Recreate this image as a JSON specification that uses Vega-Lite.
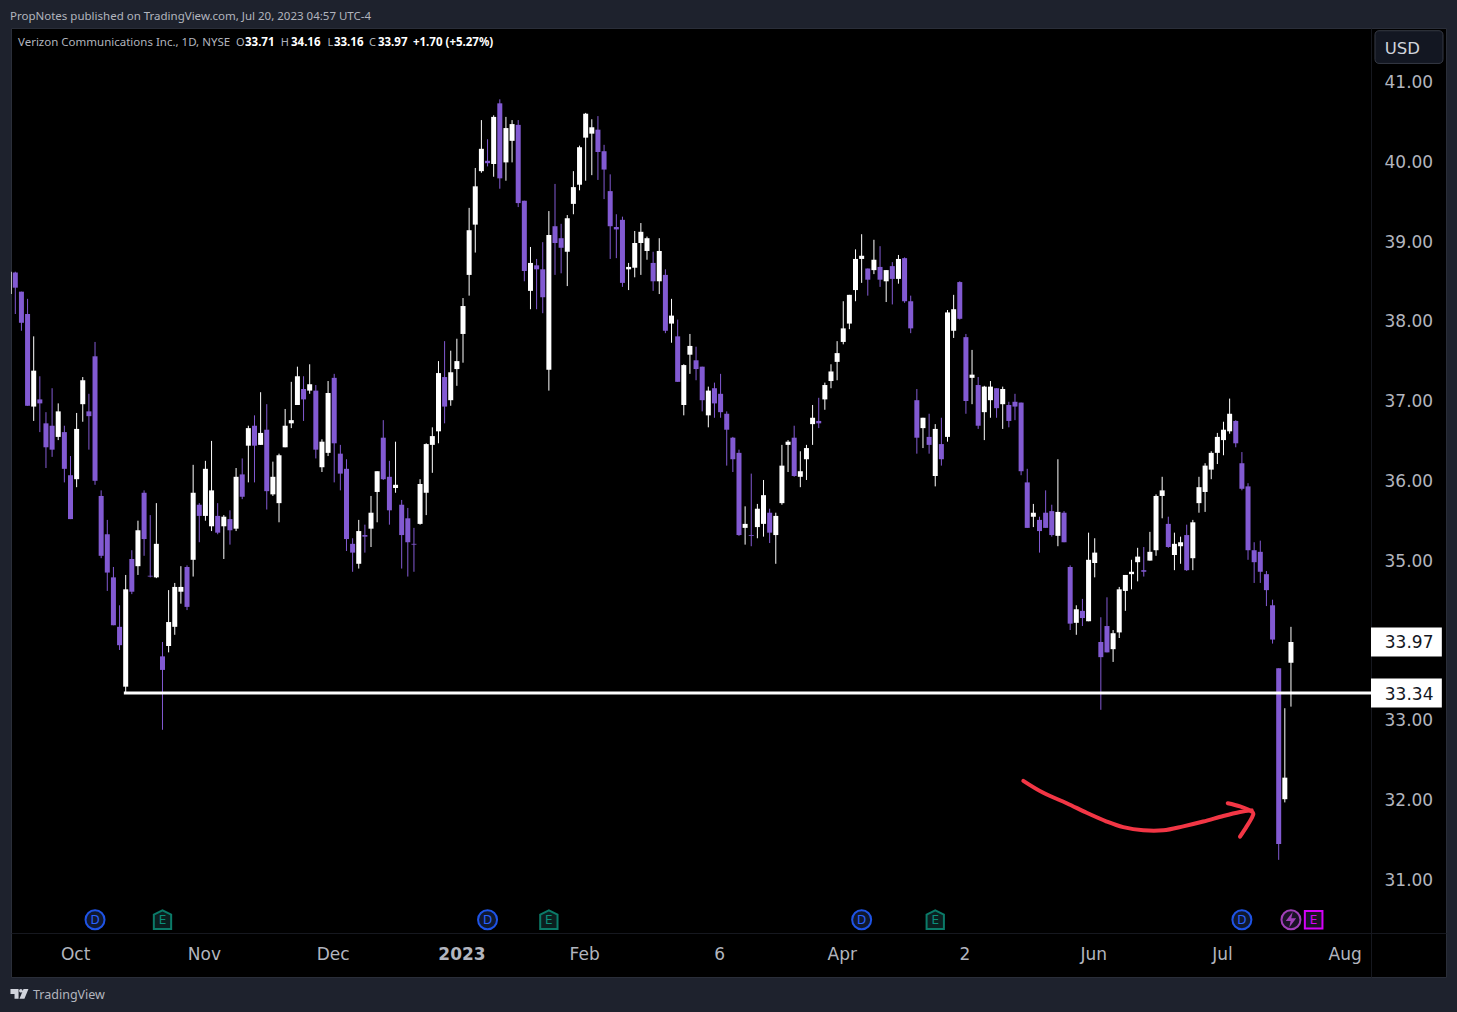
{
"$schema":"https://vega.github.io/schema/vega-lite/v6.json",
"title":{"text":"PropNotes published on TradingView.com, Jul 20, 2023 04:57 UTC-4","anchor":"start","frame":"group","offset":6,"dx":-1,"fontSize":11.5,"font":"Noto Sans","fontWeight":"normal","color":"#b2b5be"},
"autosize":"none",
"width":1435,
"height":949,
"padding":{"left":11,"top":28,"right":11,"bottom":35},
"background":"#1e222d",
"view":{"fill":"#000000","stroke":"#2a2e39"},
"config":{"text":{"font":"DejaVu Sans"}},
"datasets":{
"candles":[
{"bar":-1,"o":38.33,"h":38.61,"l":38.33,"c":38.61},
{"bar":0,"o":38.60,"h":38.61,"l":38.08,"c":38.41},
{"bar":1,"o":38.36,"h":38.36,"l":37.87,"c":37.97},
{"bar":2,"o":38.08,"h":38.27,"l":36.93,"c":36.93},
{"bar":3,"o":36.92,"h":37.80,"l":36.74,"c":37.37},
{"bar":4,"o":37.01,"h":37.30,"l":36.60,"c":36.96},
{"bar":5,"o":36.71,"h":36.85,"l":36.15,"c":36.41},
{"bar":6,"o":36.68,"h":37.15,"l":36.29,"c":36.38},
{"bar":7,"o":36.54,"h":36.96,"l":36.50,"c":36.86},
{"bar":8,"o":36.60,"h":36.68,"l":35.97,"c":36.14},
{"bar":9,"o":36.06,"h":36.30,"l":35.51,"c":35.51},
{"bar":10,"o":36.01,"h":36.84,"l":35.91,"c":36.64},
{"bar":11,"o":36.95,"h":37.29,"l":36.73,"c":37.25},
{"bar":12,"o":36.86,"h":37.08,"l":36.38,"c":36.80},
{"bar":13,"o":37.55,"h":37.73,"l":35.94,"c":35.99},
{"bar":14,"o":35.80,"h":35.87,"l":35.02,"c":35.05},
{"bar":15,"o":35.32,"h":35.50,"l":34.61,"c":34.84},
{"bar":16,"o":34.78,"h":34.91,"l":34.18,"c":34.18},
{"bar":17,"o":34.16,"h":34.43,"l":33.87,"c":33.93},
{"bar":18,"o":33.41,"h":34.81,"l":33.34,"c":34.63},
{"bar":19,"o":35.01,"h":35.12,"l":34.57,"c":34.60},
{"bar":20,"o":34.92,"h":35.49,"l":34.81,"c":35.37},
{"bar":21,"o":35.84,"h":35.87,"l":35.05,"c":35.26},
{"bar":22,"o":34.80,"h":35.56,"l":34.78,"c":34.79},
{"bar":23,"o":34.78,"h":35.71,"l":34.77,"c":35.20},
{"bar":24,"o":33.79,"h":33.97,"l":32.87,"c":33.62},
{"bar":25,"o":33.92,"h":34.62,"l":33.84,"c":34.22},
{"bar":26,"o":34.16,"h":34.71,"l":34.06,"c":34.66},
{"bar":27,"o":34.60,"h":34.92,"l":34.45,"c":34.66},
{"bar":28,"o":34.91,"h":34.93,"l":34.37,"c":34.41},
{"bar":29,"o":35.00,"h":36.19,"l":34.79,"c":35.84},
{"bar":30,"o":35.69,"h":35.71,"l":35.22,"c":35.55},
{"bar":31,"o":35.55,"h":36.24,"l":35.49,"c":36.14},
{"bar":32,"o":35.42,"h":36.49,"l":35.36,"c":35.87},
{"bar":33,"o":35.55,"h":35.71,"l":35.32,"c":35.34},
{"bar":34,"o":35.42,"h":35.56,"l":35.01,"c":35.54},
{"bar":35,"o":35.51,"h":35.62,"l":35.19,"c":35.37},
{"bar":36,"o":35.39,"h":36.15,"l":35.36,"c":36.04},
{"bar":37,"o":36.07,"h":36.27,"l":35.76,"c":35.79},
{"bar":38,"o":36.43,"h":36.68,"l":35.97,"c":36.65},
{"bar":39,"o":36.68,"h":36.81,"l":35.97,"c":36.43},
{"bar":40,"o":36.44,"h":37.10,"l":36.44,"c":36.59},
{"bar":41,"o":36.63,"h":36.95,"l":35.63,"c":35.86},
{"bar":42,"o":35.82,"h":36.23,"l":35.80,"c":36.04},
{"bar":43,"o":35.71,"h":36.33,"l":35.47,"c":36.31},
{"bar":44,"o":36.41,"h":36.89,"l":36.41,"c":36.68},
{"bar":45,"o":36.71,"h":37.23,"l":36.65,"c":36.75},
{"bar":46,"o":36.94,"h":37.42,"l":36.94,"c":37.30},
{"bar":47,"o":37.14,"h":37.30,"l":36.74,"c":37.01},
{"bar":48,"o":37.12,"h":37.45,"l":37.08,"c":37.20},
{"bar":49,"o":37.12,"h":37.19,"l":36.27,"c":36.38},
{"bar":50,"o":36.16,"h":36.51,"l":36.10,"c":36.48},
{"bar":51,"o":36.34,"h":37.24,"l":36.30,"c":37.09},
{"bar":52,"o":37.28,"h":37.33,"l":35.97,"c":36.46},
{"bar":53,"o":36.33,"h":36.44,"l":35.87,"c":36.08},
{"bar":54,"o":36.14,"h":36.26,"l":35.11,"c":35.26},
{"bar":55,"o":35.20,"h":35.27,"l":34.85,"c":35.09},
{"bar":56,"o":34.95,"h":35.50,"l":34.89,"c":35.36},
{"bar":57,"o":35.31,"h":35.44,"l":35.09,"c":35.29},
{"bar":58,"o":35.39,"h":35.80,"l":35.16,"c":35.59},
{"bar":59,"o":35.85,"h":36.11,"l":35.47,"c":36.11},
{"bar":60,"o":36.53,"h":36.75,"l":36.00,"c":36.01},
{"bar":61,"o":36.04,"h":36.24,"l":35.44,"c":35.62},
{"bar":62,"o":35.90,"h":36.48,"l":35.84,"c":35.94},
{"bar":63,"o":35.69,"h":35.75,"l":34.89,"c":35.31},
{"bar":64,"o":35.52,"h":35.65,"l":34.79,"c":35.22},
{"bar":65,"o":35.20,"h":35.40,"l":34.85,"c":35.19},
{"bar":66,"o":35.45,"h":36.01,"l":35.44,"c":35.95},
{"bar":67,"o":35.84,"h":36.46,"l":35.56,"c":36.45},
{"bar":68,"o":36.44,"h":36.66,"l":36.09,"c":36.55},
{"bar":69,"o":36.61,"h":37.49,"l":36.46,"c":37.34},
{"bar":70,"o":37.29,"h":37.74,"l":36.71,"c":36.92},
{"bar":71,"o":37.00,"h":37.62,"l":36.93,"c":37.35},
{"bar":72,"o":37.39,"h":37.77,"l":37.18,"c":37.49},
{"bar":73,"o":37.83,"h":38.28,"l":37.47,"c":38.18},
{"bar":74,"o":38.57,"h":39.41,"l":38.31,"c":39.13},
{"bar":75,"o":39.20,"h":39.91,"l":38.85,"c":39.68},
{"bar":76,"o":39.87,"h":40.51,"l":39.85,"c":40.15},
{"bar":77,"o":40.00,"h":40.27,"l":39.93,"c":39.97},
{"bar":78,"o":39.96,"h":40.57,"l":39.80,"c":40.55},
{"bar":79,"o":40.72,"h":40.77,"l":39.65,"c":39.78},
{"bar":80,"o":39.98,"h":40.55,"l":39.75,"c":40.41},
{"bar":81,"o":40.25,"h":40.51,"l":39.98,"c":40.46},
{"bar":82,"o":40.45,"h":40.51,"l":39.42,"c":39.47},
{"bar":83,"o":39.50,"h":39.50,"l":38.49,"c":38.62},
{"bar":84,"o":38.37,"h":38.92,"l":38.14,"c":38.72},
{"bar":85,"o":38.69,"h":38.77,"l":38.14,"c":38.64},
{"bar":86,"o":38.64,"h":38.98,"l":38.09,"c":38.29},
{"bar":87,"o":37.38,"h":39.37,"l":37.12,"c":39.07},
{"bar":88,"o":39.18,"h":39.71,"l":38.57,"c":38.97},
{"bar":89,"o":39.03,"h":39.21,"l":38.59,"c":38.91},
{"bar":90,"o":38.86,"h":39.32,"l":38.43,"c":39.28},
{"bar":91,"o":39.46,"h":39.87,"l":39.33,"c":39.67},
{"bar":92,"o":39.70,"h":40.19,"l":39.63,"c":40.17},
{"bar":93,"o":40.29,"h":40.60,"l":39.75,"c":40.59},
{"bar":94,"o":40.34,"h":40.52,"l":39.82,"c":40.42},
{"bar":95,"o":40.39,"h":40.56,"l":39.76,"c":40.11},
{"bar":96,"o":40.12,"h":40.20,"l":39.52,"c":39.89},
{"bar":97,"o":39.62,"h":39.83,"l":38.77,"c":39.18},
{"bar":98,"o":39.17,"h":39.33,"l":38.78,"c":39.14},
{"bar":99,"o":39.26,"h":39.30,"l":38.42,"c":38.47},
{"bar":100,"o":38.64,"h":38.72,"l":38.38,"c":38.67},
{"bar":101,"o":38.66,"h":39.12,"l":38.54,"c":38.97},
{"bar":102,"o":38.97,"h":39.22,"l":38.57,"c":39.11},
{"bar":103,"o":38.87,"h":39.05,"l":38.76,"c":39.03},
{"bar":104,"o":38.72,"h":38.86,"l":38.37,"c":38.49},
{"bar":105,"o":38.49,"h":39.03,"l":38.33,"c":38.87},
{"bar":106,"o":38.57,"h":38.64,"l":37.84,"c":37.87},
{"bar":107,"o":37.96,"h":38.27,"l":37.72,"c":38.06},
{"bar":108,"o":37.80,"h":38.01,"l":37.23,"c":37.23},
{"bar":109,"o":36.94,"h":37.45,"l":36.81,"c":37.44},
{"bar":110,"o":37.57,"h":37.83,"l":37.33,"c":37.68},
{"bar":111,"o":37.50,"h":37.67,"l":37.25,"c":37.39},
{"bar":112,"o":37.42,"h":37.42,"l":36.86,"c":37.00},
{"bar":113,"o":36.81,"h":37.17,"l":36.66,"c":37.12},
{"bar":114,"o":37.15,"h":37.22,"l":36.78,"c":36.96},
{"bar":115,"o":37.08,"h":37.33,"l":36.78,"c":36.85},
{"bar":116,"o":36.83,"h":36.86,"l":36.18,"c":36.63},
{"bar":117,"o":36.53,"h":36.54,"l":36.10,"c":36.26},
{"bar":118,"o":36.34,"h":36.38,"l":35.30,"c":35.31},
{"bar":119,"o":35.40,"h":35.67,"l":35.19,"c":35.45},
{"bar":120,"o":35.31,"h":36.08,"l":35.17,"c":35.30},
{"bar":121,"o":35.41,"h":35.70,"l":35.27,"c":35.64},
{"bar":122,"o":35.45,"h":36.00,"l":35.29,"c":35.81},
{"bar":123,"o":35.59,"h":35.64,"l":35.21,"c":35.34},
{"bar":124,"o":35.31,"h":35.59,"l":34.95,"c":35.55},
{"bar":125,"o":35.71,"h":36.44,"l":35.69,"c":36.18},
{"bar":126,"o":36.44,"h":36.50,"l":36.10,"c":36.48},
{"bar":127,"o":36.53,"h":36.68,"l":36.04,"c":36.05},
{"bar":128,"o":36.04,"h":36.36,"l":35.91,"c":36.11},
{"bar":129,"o":36.26,"h":36.44,"l":36.00,"c":36.40},
{"bar":130,"o":36.70,"h":36.94,"l":36.44,"c":36.78},
{"bar":131,"o":36.74,"h":37.03,"l":36.65,"c":36.71},
{"bar":132,"o":37.01,"h":37.22,"l":36.88,"c":37.19},
{"bar":133,"o":37.24,"h":37.45,"l":37.15,"c":37.36},
{"bar":134,"o":37.48,"h":37.74,"l":37.25,"c":37.59},
{"bar":135,"o":37.73,"h":38.24,"l":37.70,"c":37.90},
{"bar":136,"o":37.96,"h":38.32,"l":37.89,"c":38.32},
{"bar":137,"o":38.38,"h":38.89,"l":38.24,"c":38.77},
{"bar":138,"o":38.77,"h":39.08,"l":38.47,"c":38.81},
{"bar":139,"o":38.65,"h":38.65,"l":38.31,"c":38.51},
{"bar":140,"o":38.63,"h":39.01,"l":38.58,"c":38.76},
{"bar":141,"o":38.67,"h":38.93,"l":38.42,"c":38.51},
{"bar":142,"o":38.49,"h":38.63,"l":38.23,"c":38.63},
{"bar":143,"o":38.68,"h":38.73,"l":38.20,"c":38.52},
{"bar":144,"o":38.52,"h":38.82,"l":38.46,"c":38.77},
{"bar":145,"o":38.78,"h":38.79,"l":38.22,"c":38.24},
{"bar":146,"o":38.24,"h":38.31,"l":37.84,"c":37.90},
{"bar":147,"o":37.00,"h":37.14,"l":36.33,"c":36.53},
{"bar":148,"o":36.65,"h":36.78,"l":36.40,"c":36.78},
{"bar":149,"o":36.54,"h":36.83,"l":36.33,"c":36.44},
{"bar":150,"o":36.05,"h":36.70,"l":35.92,"c":36.64},
{"bar":151,"o":36.45,"h":36.78,"l":36.18,"c":36.26},
{"bar":152,"o":36.54,"h":38.13,"l":36.48,"c":38.10},
{"bar":153,"o":37.87,"h":38.32,"l":37.78,"c":38.14},
{"bar":154,"o":38.48,"h":38.49,"l":38.01,"c":38.02},
{"bar":155,"o":37.79,"h":37.83,"l":36.83,"c":36.99},
{"bar":156,"o":37.28,"h":37.63,"l":36.95,"c":37.32},
{"bar":157,"o":37.19,"h":37.29,"l":36.64,"c":36.68},
{"bar":158,"o":36.85,"h":37.18,"l":36.50,"c":37.17},
{"bar":159,"o":37.00,"h":37.24,"l":36.78,"c":37.17},
{"bar":160,"o":37.15,"h":37.15,"l":36.78,"c":36.90},
{"bar":161,"o":36.95,"h":37.17,"l":36.64,"c":37.14},
{"bar":162,"o":36.94,"h":36.98,"l":36.66,"c":36.74},
{"bar":163,"o":36.98,"h":37.08,"l":36.75,"c":36.92},
{"bar":164,"o":36.97,"h":36.97,"l":36.06,"c":36.11},
{"bar":165,"o":35.97,"h":36.14,"l":35.40,"c":35.40},
{"bar":166,"o":35.54,"h":35.70,"l":35.41,"c":35.59},
{"bar":167,"o":35.50,"h":35.54,"l":35.09,"c":35.36},
{"bar":168,"o":35.59,"h":35.87,"l":35.40,"c":35.40},
{"bar":169,"o":35.61,"h":35.69,"l":35.29,"c":35.31},
{"bar":170,"o":35.30,"h":36.26,"l":35.17,"c":35.60},
{"bar":171,"o":35.59,"h":35.61,"l":35.22,"c":35.22},
{"bar":172,"o":34.91,"h":34.93,"l":34.12,"c":34.20},
{"bar":173,"o":34.21,"h":34.43,"l":34.06,"c":34.38},
{"bar":174,"o":34.36,"h":34.51,"l":34.17,"c":34.27},
{"bar":175,"o":34.23,"h":35.34,"l":34.23,"c":35.00},
{"bar":176,"o":34.96,"h":35.27,"l":34.78,"c":35.09},
{"bar":177,"o":33.97,"h":34.28,"l":33.12,"c":33.78},
{"bar":178,"o":34.17,"h":34.53,"l":33.84,"c":33.84},
{"bar":179,"o":33.88,"h":34.12,"l":33.72,"c":34.08},
{"bar":180,"o":34.09,"h":34.66,"l":34.02,"c":34.63},
{"bar":181,"o":34.61,"h":34.81,"l":34.36,"c":34.81},
{"bar":182,"o":34.82,"h":35.00,"l":34.63,"c":34.85},
{"bar":183,"o":34.97,"h":35.15,"l":34.73,"c":35.04},
{"bar":184,"o":34.87,"h":35.16,"l":34.79,"c":34.85},
{"bar":185,"o":34.99,"h":35.35,"l":34.99,"c":35.10},
{"bar":186,"o":35.12,"h":35.82,"l":35.05,"c":35.80},
{"bar":187,"o":35.80,"h":36.04,"l":35.52,"c":35.87},
{"bar":188,"o":35.45,"h":35.54,"l":35.15,"c":35.16},
{"bar":189,"o":35.06,"h":35.34,"l":34.87,"c":35.20},
{"bar":190,"o":35.17,"h":35.29,"l":34.95,"c":35.22},
{"bar":191,"o":35.31,"h":35.44,"l":34.86,"c":34.87},
{"bar":192,"o":35.02,"h":35.50,"l":34.87,"c":35.47},
{"bar":193,"o":35.71,"h":36.04,"l":35.59,"c":35.91},
{"bar":194,"o":35.85,"h":36.21,"l":35.60,"c":36.18},
{"bar":195,"o":36.13,"h":36.36,"l":36.01,"c":36.34},
{"bar":196,"o":36.34,"h":36.59,"l":36.20,"c":36.54},
{"bar":197,"o":36.50,"h":36.73,"l":36.31,"c":36.63},
{"bar":198,"o":36.61,"h":37.02,"l":36.58,"c":36.83},
{"bar":199,"o":36.74,"h":36.75,"l":36.41,"c":36.46},
{"bar":200,"o":36.21,"h":36.35,"l":35.87,"c":35.89},
{"bar":201,"o":35.92,"h":35.96,"l":35.00,"c":35.12},
{"bar":202,"o":35.12,"h":35.22,"l":34.71,"c":34.97},
{"bar":203,"o":35.10,"h":35.24,"l":34.71,"c":34.85},
{"bar":204,"o":34.82,"h":34.86,"l":34.42,"c":34.62},
{"bar":205,"o":34.43,"h":34.50,"l":33.95,"c":34.00},
{"bar":206,"o":33.64,"h":33.64,"l":31.24,"c":31.44},
{"bar":207,"o":32.00,"h":33.14,"l":31.96,"c":32.27},
{"bar":208,"o":33.71,"h":34.16,"l":33.16,"c":33.97}
],
"arrow":[
{"part":"shaft","seq":1,"bar":164.36,"price":32.23},
{"part":"shaft","seq":2,"bar":167.62,"price":32.08},
{"part":"shaft","seq":3,"bar":171.44,"price":31.95},
{"part":"shaft","seq":4,"bar":174.69,"price":31.83},
{"part":"shaft","seq":5,"bar":177.96,"price":31.72},
{"part":"shaft","seq":6,"bar":180.66,"price":31.65},
{"part":"shaft","seq":7,"bar":183.92,"price":31.61},
{"part":"shaft","seq":8,"bar":187.18,"price":31.61},
{"part":"shaft","seq":9,"bar":190.44,"price":31.66},
{"part":"shaft","seq":10,"bar":193.70,"price":31.72},
{"part":"shaft","seq":11,"bar":196.97,"price":31.79},
{"part":"shaft","seq":12,"bar":199.69,"price":31.84},
{"part":"shaft","seq":13,"bar":201.60,"price":31.86},
{"part":"head","seq":1,"bar":197.69,"price":31.95},
{"part":"head","seq":2,"bar":199.69,"price":31.91},
{"part":"head","seq":3,"bar":201.70,"price":31.84},
{"part":"head","seq":4,"bar":201.70,"price":31.78},
{"part":"head","seq":5,"bar":200.78,"price":31.66},
{"part":"head","seq":6,"bar":199.69,"price":31.53}
],
"dividends":[{"bar":13,"letter":"D"},{"bar":77,"letter":"D"},{"bar":138,"letter":"D"},{"bar":200,"letter":"D"}],
"earnings":[{"bar":24,"letter":"E"},{"bar":87,"letter":"E"},{"bar":150,"letter":"E"}],
"tags":[{"price":33.97,"label":"33.97"},{"price":33.33,"label":"33.34"}]
},
"layer":[
{"data":{"name":"candles"},"mark":{"type":"rule","strokeWidth":1,"clip":true},
"encoding":{
"x":{"field":"bar","type":"quantitative","title":null,"scale":{"domain":[-0.701,233.28],"nice":false,"zero":false,"padding":0},
"axis":{"values":[10,31,52,73,93,115,135,155,176,197,217],"labelExpr":"{'10':'Oct','31':'Nov','52':'Dec','73':'2023','93':'Feb','115':'6','135':'Apr','155':'2','176':'Jun','197':'Jul','217':'Aug'}[datum.value]","offset":-44,"grid":false,"ticks":false,"domainColor":"#16181f","labelColor":"#b2b5be","labelFont":"DejaVu Sans","labelFontSize":17,"labelPadding":13,"labelOffset":-1.5,"labelFlush":false,"labelOverlap":false,"labelFontWeight":{"condition":{"test":"datum.value==73","value":"bold"},"value":"normal"}}},
"y":{"field":"l","type":"quantitative","title":null,"scale":{"domain":[29.772,41.664],"nice":false,"zero":false},
"axis":{"orient":"right","values":[31,32,33,34,35,36,37,38,39,40,41],"format":".2f","offset":-75,"grid":false,"ticks":false,"domainColor":"#16181f","labelColor":"#b2b5be","labelFont":"DejaVu Sans","labelFontSize":17,"labelPadding":13,"labelOffset":1.5,"labelOverlap":false}},
"y2":{"field":"h"},"color":{"condition":{"test":"datum.c>=datum.o","value":"#ffffff"},"value":"#825ad2"}}},
{"data":{"name":"candles"},"mark":{"type":"bar","size":5,"clip":true},
"encoding":{"x":{"field":"bar","type":"quantitative","scale":{"domain":[-0.701,233.28],"nice":false,"zero":false,"padding":0}},"y":{"field":"o","type":"quantitative"},"y2":{"field":"c"},"color":{"condition":{"test":"datum.c>=datum.o","value":"#ffffff"},"value":"#825ad2"}}},
{"data":{"values":[{"bar":17.7,"end":221.05,"price":33.33}]},"mark":{"type":"rule","color":"#ffffff","strokeWidth":3},"encoding":{"x":{"field":"bar","type":"quantitative"},"x2":{"field":"end"},"y":{"field":"price","type":"quantitative"}}},
{"data":{"name":"arrow"},"mark":{"type":"line","color":"#f23645","strokeWidth":4,"strokeCap":"round","strokeJoin":"round","interpolate":"cardinal"},"encoding":{"x":{"field":"bar","type":"quantitative"},"y":{"field":"price","type":"quantitative"},"detail":{"field":"part"},"order":{"field":"seq"}}},
{"data":{"name":"tags"},"mark":{"type":"rule","color":"#ffffff","strokeWidth":29},"encoding":{"x":{"datum":221.05},"x2":{"datum":232.6},"y":{"field":"price","type":"quantitative"}}},
{"data":{"name":"tags"},"mark":{"type":"text","color":"#131722","fontSize":17,"align":"left","baseline":"middle","dy":1.5},"encoding":{"x":{"datum":223.3},"y":{"field":"price","type":"quantitative"},"text":{"field":"label"}}},
{"data":{"values":[{"unit":"USD"}]},"mark":{"type":"rect","fill":"#131722","stroke":"#363a45","strokeWidth":1,"cornerRadius":4},"encoding":{"x":{"datum":221.7},"x2":{"datum":232.79},"y":{"datum":41.63},"y2":{"datum":41.22}}},
{"data":{"values":[{"unit":"USD"}]},"mark":{"type":"text","color":"#d1d4dc","fontSize":16.5,"align":"left","baseline":"middle"},"encoding":{"x":{"datum":223.3},"y":{"datum":41.4},"text":{"field":"unit"}}},
{"data":{"name":"dividends"},"mark":{"type":"point","shape":"circle","filled":true,"fill":"#10182e","stroke":"#1e53e5","strokeWidth":2,"size":361,"opacity":1},"encoding":{"x":{"field":"bar","type":"quantitative"},"y":{"datum":30.49}}},
{"data":{"name":"dividends"},"mark":{"type":"text","color":"#2962ff","fontSize":12,"baseline":"middle"},"encoding":{"x":{"field":"bar","type":"quantitative"},"y":{"datum":30.49},"text":{"field":"letter"}}},
{"data":{"name":"earnings"},"mark":{"type":"point","shape":"M-1,-0.58L0,-1.07L1,-0.58L1,1.07L-1,1.07Z","filled":true,"fill":"#0b1f1f","stroke":"#0b7a68","strokeWidth":2,"size":300,"opacity":1},"encoding":{"x":{"field":"bar","type":"quantitative"},"y":{"datum":30.49}}},
{"data":{"name":"earnings"},"mark":{"type":"text","color":"#0b8f7a","fontSize":12,"baseline":"middle"},"encoding":{"x":{"field":"bar","type":"quantitative"},"y":{"datum":30.49},"text":{"field":"letter"}}},
{"data":{"values":[{"bar":208,"kind":"split"}]},"mark":{"type":"point","shape":"circle","filled":true,"fill":"#1a1226","stroke":"#a040b8","strokeWidth":2,"size":361,"opacity":1},"encoding":{"x":{"field":"bar","type":"quantitative"},"y":{"datum":30.49}}},
{"data":{"values":[{"bar":208,"kind":"split"}]},"mark":{"type":"point","shape":"M0.2,-0.9L-0.6,0.16L-0.04,0.16L-0.2,0.9L0.6,-0.16L0.04,-0.16Z","filled":true,"fill":"#a040b8","size":300,"opacity":1},"encoding":{"x":{"field":"bar","type":"quantitative"},"y":{"datum":30.49}}},
{"data":{"values":[{"bar":211.7,"letter":"E"}]},"mark":{"type":"point","shape":"square","filled":true,"fill":"#1a1226","stroke":"#d500f9","strokeWidth":2,"size":310,"opacity":1},"encoding":{"x":{"field":"bar","type":"quantitative"},"y":{"datum":30.49}}},
{"data":{"values":[{"bar":211.7,"letter":"E"}]},"mark":{"type":"text","color":"#d500f9","fontSize":12,"baseline":"middle"},"encoding":{"x":{"field":"bar","type":"quantitative"},"y":{"datum":30.49},"text":{"field":"letter"}}},
{"data":{"values":[{"t":"Verizon Communications Inc., 1D, NYSE"}]},"mark":{"type":"text","color":"#b2b5be","font":"Noto Sans","fontSize":11.5,"align":"left","baseline":"middle"},"encoding":{"x":{"datum":0.44},"y":{"datum":41.48},"text":{"field":"t"}}},
{"data":{"values":[{"t":"O"}]},"mark":{"type":"text","color":"#b2b5be","font":"Noto Sans","fontSize":11,"align":"left","baseline":"middle"},"encoding":{"x":{"datum":36.0},"y":{"datum":41.48},"text":{"field":"t"}}},
{"data":{"values":[{"t":"33.71"}]},"mark":{"type":"text","color":"#ffffff","font":"Noto Sans","fontWeight":"bold","fontSize":11.5,"align":"left","baseline":"middle"},"encoding":{"x":{"datum":37.45},"y":{"datum":41.48},"text":{"field":"t"}}},
{"data":{"values":[{"t":"H"}]},"mark":{"type":"text","color":"#b2b5be","font":"Noto Sans","fontSize":11,"align":"left","baseline":"middle"},"encoding":{"x":{"datum":43.3},"y":{"datum":41.48},"text":{"field":"t"}}},
{"data":{"values":[{"t":"34.16"}]},"mark":{"type":"text","color":"#ffffff","font":"Noto Sans","fontWeight":"bold","fontSize":11.5,"align":"left","baseline":"middle"},"encoding":{"x":{"datum":44.95},"y":{"datum":41.48},"text":{"field":"t"}}},
{"data":{"values":[{"t":"L"}]},"mark":{"type":"text","color":"#b2b5be","font":"Noto Sans","fontSize":11,"align":"left","baseline":"middle"},"encoding":{"x":{"datum":50.9},"y":{"datum":41.48},"text":{"field":"t"}}},
{"data":{"values":[{"t":"33.16"}]},"mark":{"type":"text","color":"#ffffff","font":"Noto Sans","fontWeight":"bold","fontSize":11.5,"align":"left","baseline":"middle"},"encoding":{"x":{"datum":51.96},"y":{"datum":41.48},"text":{"field":"t"}}},
{"data":{"values":[{"t":"C"}]},"mark":{"type":"text","color":"#b2b5be","font":"Noto Sans","fontSize":11,"align":"left","baseline":"middle"},"encoding":{"x":{"datum":57.67},"y":{"datum":41.48},"text":{"field":"t"}}},
{"data":{"values":[{"t":"33.97"}]},"mark":{"type":"text","color":"#ffffff","font":"Noto Sans","fontWeight":"bold","fontSize":11.5,"align":"left","baseline":"middle"},"encoding":{"x":{"datum":59.13},"y":{"datum":41.48},"text":{"field":"t"}}},
{"data":{"values":[{"t":"+1.70 (+5.27%)"}]},"mark":{"type":"text","color":"#ffffff","font":"Noto Sans","fontWeight":"bold","fontSize":11.5,"align":"left","baseline":"middle"},"encoding":{"x":{"datum":64.84},"y":{"datum":41.48},"text":{"field":"t"}}},
{"data":{"values":[{"brand":"TradingView","bar":0.68}]},"mark":{"type":"point","shape":"M-1,-0.55H-0.1V0.55H-0.55V0H-1ZM0.15,-0.55a0.2,0.2 0 1,0 0.01,0ZM0.45,-0.55H1L0.55,0.55H0Z","filled":true,"fill":"#d1d4dc","size":324,"opacity":1},"encoding":{"x":{"field":"bar","type":"quantitative"},"y":{"datum":29.56}}},
{"data":{"values":[{"t":"TradingView"}]},"mark":{"type":"text","color":"#b2b5be","font":"Noto Sans","fontSize":12.5,"align":"left","baseline":"middle","dy":1},"encoding":{"x":{"datum":2.89},"y":{"datum":29.56},"text":{"field":"t"}}}
]
}
